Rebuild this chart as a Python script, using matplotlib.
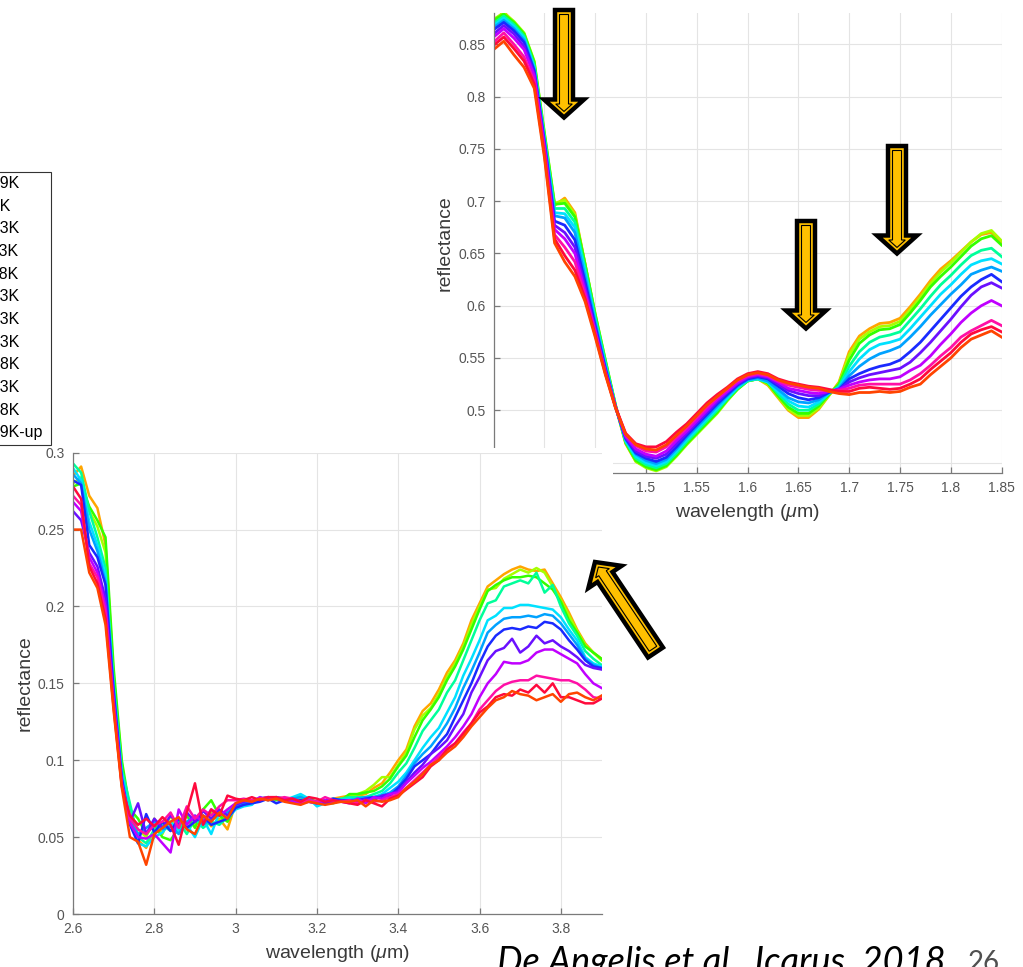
import numpy as np
import matplotlib
matplotlib.use("Agg")
import matplotlib.pyplot as plt
from matplotlib.patches import Polygon, Rectangle
from matplotlib.ticker import FormatStrFormatter, MultipleLocator

plt.rcParams['font.family'] = ['Liberation Sans', 'DejaVu Sans']
plt.rcParams['mathtext.fontset'] = 'custom'
plt.rcParams['mathtext.rm'] = 'Liberation Sans'
plt.rcParams['mathtext.it'] = 'Liberation Sans:italic'

# temperature steps (legend order) and line colours
temps = ['T=109K', 'T=93K', 'T=103K', 'T=113K', 'T=118K', 'T=123K',
         'T=133K', 'T=143K', 'T=148K', 'T=153K', 'T=158K', 'T=109K-up']
colors = ['#FFA500', '#A6FF00', '#33FF00', '#00FF9A', '#00E1FF', '#00A2FF',
          '#1A2AFF', '#6A10FF', '#C000FF', '#FF10A6', '#FF0A3C', '#FF4400']

# 1.35-1.85 um, one row per wavelength, one column per temperature
nir_wl = [1.35, 1.36, 1.37, 1.38, 1.39, 1.40, 1.41, 1.42, 1.43, 1.44, 1.45,
          1.46, 1.47, 1.48, 1.49, 1.50, 1.51, 1.52, 1.53, 1.54, 1.55, 1.56,
          1.57, 1.58, 1.59, 1.60, 1.61, 1.62, 1.63, 1.64, 1.65, 1.66, 1.67,
          1.68, 1.69, 1.70, 1.71, 1.72, 1.73, 1.74, 1.75, 1.76, 1.77, 1.78,
          1.79, 1.80, 1.81, 1.82, 1.83, 1.84, 1.85]
nir_refl = [
    [0.872, 0.874, 0.873, 0.870, 0.868, 0.866, 0.864, 0.860, 0.857, 0.852, 0.849, 0.845],
    [0.881, 0.880, 0.879, 0.877, 0.875, 0.873, 0.871, 0.868, 0.865, 0.861, 0.857, 0.853],
    [0.871, 0.872, 0.871, 0.869, 0.867, 0.865, 0.863, 0.860, 0.856, 0.850, 0.846, 0.840],
    [0.860, 0.861, 0.860, 0.858, 0.856, 0.854, 0.852, 0.848, 0.845, 0.838, 0.834, 0.828],
    [0.830, 0.834, 0.833, 0.830, 0.828, 0.826, 0.825, 0.822, 0.820, 0.815, 0.812, 0.808],
    [0.762, 0.766, 0.765, 0.762, 0.760, 0.758, 0.757, 0.754, 0.752, 0.748, 0.745, 0.742],
    [0.696, 0.698, 0.697, 0.693, 0.689, 0.686, 0.681, 0.677, 0.673, 0.668, 0.664, 0.660],
    [0.703, 0.701, 0.698, 0.693, 0.688, 0.684, 0.677, 0.670, 0.664, 0.656, 0.648, 0.642],
    [0.689, 0.687, 0.685, 0.680, 0.675, 0.670, 0.663, 0.656, 0.650, 0.642, 0.634, 0.628],
    [0.640, 0.640, 0.640, 0.636, 0.632, 0.628, 0.623, 0.618, 0.614, 0.610, 0.607, 0.604],
    [0.590, 0.592, 0.592, 0.589, 0.586, 0.584, 0.581, 0.578, 0.576, 0.574, 0.572, 0.570],
    [0.545, 0.548, 0.548, 0.546, 0.544, 0.542, 0.540, 0.538, 0.537, 0.536, 0.535, 0.534],
    [0.504, 0.505, 0.505, 0.504, 0.504, 0.504, 0.503, 0.503, 0.503, 0.503, 0.503, 0.502],
    [0.468, 0.469, 0.469, 0.470, 0.471, 0.472, 0.473, 0.474, 0.475, 0.477, 0.478, 0.477],
    [0.451, 0.451, 0.452, 0.454, 0.456, 0.458, 0.459, 0.461, 0.463, 0.466, 0.468, 0.467],
    [0.446, 0.445, 0.446, 0.448, 0.450, 0.452, 0.454, 0.456, 0.458, 0.461, 0.465, 0.463],
    [0.443, 0.442, 0.443, 0.445, 0.447, 0.449, 0.451, 0.454, 0.456, 0.460, 0.465, 0.462],
    [0.447, 0.446, 0.447, 0.449, 0.451, 0.453, 0.455, 0.458, 0.461, 0.465, 0.470, 0.467],
    [0.457, 0.456, 0.457, 0.459, 0.461, 0.463, 0.465, 0.468, 0.471, 0.474, 0.479, 0.476],
    [0.468, 0.467, 0.468, 0.470, 0.472, 0.474, 0.476, 0.478, 0.480, 0.483, 0.487, 0.485],
    [0.479, 0.477, 0.478, 0.480, 0.482, 0.484, 0.486, 0.488, 0.490, 0.493, 0.497, 0.495],
    [0.490, 0.487, 0.488, 0.490, 0.492, 0.494, 0.496, 0.498, 0.500, 0.503, 0.507, 0.505],
    [0.500, 0.497, 0.498, 0.500, 0.502, 0.504, 0.506, 0.508, 0.510, 0.512, 0.515, 0.513],
    [0.511, 0.509, 0.510, 0.511, 0.512, 0.514, 0.515, 0.517, 0.518, 0.520, 0.522, 0.521],
    [0.521, 0.520, 0.520, 0.521, 0.522, 0.523, 0.524, 0.525, 0.526, 0.528, 0.530, 0.529],
    [0.528, 0.528, 0.528, 0.528, 0.529, 0.529, 0.530, 0.531, 0.532, 0.533, 0.535, 0.534],
    [0.530, 0.530, 0.530, 0.530, 0.530, 0.531, 0.532, 0.533, 0.534, 0.535, 0.537, 0.536],
    [0.524, 0.525, 0.526, 0.527, 0.527, 0.528, 0.530, 0.531, 0.532, 0.533, 0.535, 0.534],
    [0.512, 0.513, 0.514, 0.516, 0.518, 0.520, 0.523, 0.525, 0.527, 0.528, 0.530, 0.529],
    [0.500, 0.501, 0.503, 0.506, 0.509, 0.512, 0.516, 0.519, 0.521, 0.524, 0.527, 0.526],
    [0.493, 0.495, 0.497, 0.500, 0.504, 0.508, 0.512, 0.516, 0.519, 0.522, 0.525, 0.524],
    [0.493, 0.495, 0.497, 0.500, 0.503, 0.507, 0.510, 0.514, 0.517, 0.520, 0.523, 0.522],
    [0.501, 0.502, 0.504, 0.506, 0.508, 0.510, 0.512, 0.514, 0.516, 0.519, 0.522, 0.521],
    [0.514, 0.514, 0.515, 0.516, 0.516, 0.517, 0.517, 0.518, 0.518, 0.519, 0.520, 0.518],
    [0.527, 0.526, 0.525, 0.523, 0.522, 0.521, 0.520, 0.520, 0.520, 0.519, 0.518, 0.516],
    [0.556, 0.553, 0.548, 0.542, 0.537, 0.533, 0.530, 0.527, 0.524, 0.521, 0.518, 0.515],
    [0.571, 0.568, 0.564, 0.556, 0.549, 0.542, 0.535, 0.531, 0.527, 0.524, 0.521, 0.517],
    [0.578, 0.575, 0.572, 0.565, 0.558, 0.549, 0.539, 0.534, 0.529, 0.525, 0.522, 0.517],
    [0.583, 0.580, 0.577, 0.570, 0.563, 0.554, 0.542, 0.536, 0.530, 0.525, 0.521, 0.518],
    [0.584, 0.581, 0.578, 0.572, 0.565, 0.557, 0.544, 0.538, 0.530, 0.525, 0.520, 0.517],
    [0.588, 0.585, 0.582, 0.575, 0.568, 0.561, 0.548, 0.540, 0.532, 0.525, 0.521, 0.518],
    [0.599, 0.596, 0.593, 0.586, 0.578, 0.570, 0.556, 0.546, 0.538, 0.529, 0.525, 0.522],
    [0.611, 0.608, 0.605, 0.597, 0.589, 0.580, 0.565, 0.555, 0.543, 0.535, 0.530, 0.525],
    [0.624, 0.621, 0.618, 0.609, 0.600, 0.591, 0.576, 0.565, 0.552, 0.543, 0.539, 0.534],
    [0.635, 0.632, 0.628, 0.620, 0.611, 0.601, 0.587, 0.576, 0.563, 0.552, 0.547, 0.542],
    [0.643, 0.641, 0.637, 0.629, 0.620, 0.611, 0.598, 0.587, 0.573, 0.560, 0.555, 0.550],
    [0.652, 0.651, 0.647, 0.639, 0.630, 0.620, 0.609, 0.599, 0.584, 0.570, 0.565, 0.560],
    [0.661, 0.661, 0.657, 0.648, 0.639, 0.630, 0.618, 0.610, 0.593, 0.576, 0.573, 0.568],
    [0.668, 0.669, 0.664, 0.653, 0.643, 0.634, 0.625, 0.618, 0.600, 0.581, 0.577, 0.572],
    [0.670, 0.672, 0.667, 0.655, 0.645, 0.637, 0.630, 0.622, 0.605, 0.586, 0.580, 0.576],
    [0.661, 0.662, 0.658, 0.647, 0.640, 0.633, 0.623, 0.617, 0.600, 0.581, 0.575, 0.570],
]

# 2.6-3.9 um, same layout
mir_wl = [2.60, 2.62, 2.64, 2.66, 2.68, 2.70, 2.72, 2.74, 2.76, 2.78, 2.80,
          2.82, 2.84, 2.86, 2.88, 2.90, 2.92, 2.94, 2.96, 2.98, 3.00, 3.02,
          3.04, 3.06, 3.08, 3.10, 3.12, 3.14, 3.16, 3.18, 3.20, 3.22, 3.24,
          3.26, 3.28, 3.30, 3.32, 3.34, 3.36, 3.38, 3.40, 3.42, 3.44, 3.46,
          3.48, 3.50, 3.52, 3.54, 3.56, 3.58, 3.60, 3.62, 3.64, 3.66, 3.68,
          3.70, 3.72, 3.74, 3.76, 3.78, 3.80, 3.82, 3.84, 3.86, 3.88, 3.90]
mir_refl = [
    [0.285, 0.280, 0.278, 0.293, 0.290, 0.286, 0.282, 0.262, 0.268, 0.272, 0.278, 0.250],
    [0.291, 0.284, 0.280, 0.287, 0.282, 0.280, 0.279, 0.256, 0.262, 0.266, 0.270, 0.250],
    [0.272, 0.262, 0.265, 0.262, 0.255, 0.250, 0.240, 0.235, 0.232, 0.228, 0.226, 0.222],
    [0.264, 0.252, 0.256, 0.245, 0.240, 0.236, 0.232, 0.226, 0.222, 0.219, 0.215, 0.212],
    [0.240, 0.235, 0.245, 0.225, 0.220, 0.216, 0.214, 0.205, 0.200, 0.196, 0.192, 0.188],
    [0.155, 0.153, 0.160, 0.150, 0.148, 0.146, 0.145, 0.140, 0.138, 0.136, 0.134, 0.132],
    [0.098, 0.096, 0.100, 0.094, 0.092, 0.090, 0.088, 0.086, 0.085, 0.084, 0.083, 0.082],
    [0.062, 0.066, 0.068, 0.072, 0.064, 0.060, 0.058, 0.060, 0.059, 0.062, 0.064, 0.050],
    [0.048, 0.055, 0.062, 0.050, 0.046, 0.052, 0.046, 0.072, 0.050, 0.055, 0.058, 0.047],
    [0.043, 0.050, 0.052, 0.046, 0.044, 0.056, 0.065, 0.052, 0.049, 0.052, 0.062, 0.032],
    [0.055, 0.062, 0.058, 0.055, 0.050, 0.060, 0.053, 0.062, 0.052, 0.058, 0.057, 0.052],
    [0.060, 0.052, 0.050, 0.058, 0.053, 0.055, 0.060, 0.056, 0.046, 0.060, 0.063, 0.056],
    [0.058, 0.064, 0.048, 0.054, 0.060, 0.057, 0.054, 0.064, 0.040, 0.066, 0.058, 0.060],
    [0.062, 0.055, 0.056, 0.060, 0.054, 0.052, 0.062, 0.058, 0.068, 0.056, 0.045, 0.063],
    [0.056, 0.060, 0.064, 0.052, 0.058, 0.060, 0.056, 0.066, 0.058, 0.070, 0.066, 0.055],
    [0.060, 0.058, 0.056, 0.062, 0.050, 0.064, 0.060, 0.060, 0.064, 0.062, 0.085, 0.052],
    [0.064, 0.062, 0.068, 0.056, 0.062, 0.058, 0.064, 0.067, 0.060, 0.068, 0.058, 0.064],
    [0.057, 0.066, 0.074, 0.060, 0.052, 0.062, 0.058, 0.062, 0.068, 0.064, 0.068, 0.060],
    [0.062, 0.060, 0.064, 0.058, 0.066, 0.065, 0.060, 0.068, 0.064, 0.070, 0.064, 0.066],
    [0.055, 0.068, 0.060, 0.063, 0.062, 0.066, 0.062, 0.064, 0.068, 0.074, 0.077, 0.062],
    [0.072, 0.071, 0.070, 0.070, 0.068, 0.070, 0.069, 0.071, 0.072, 0.074, 0.075, 0.072],
    [0.074, 0.073, 0.072, 0.071, 0.070, 0.072, 0.071, 0.073, 0.074, 0.075, 0.074, 0.074],
    [0.073, 0.074, 0.073, 0.072, 0.071, 0.073, 0.072, 0.074, 0.073, 0.074, 0.076, 0.073],
    [0.075, 0.074, 0.075, 0.074, 0.076, 0.074, 0.073, 0.075, 0.076, 0.075, 0.074, 0.075],
    [0.074, 0.075, 0.076, 0.075, 0.074, 0.075, 0.075, 0.076, 0.074, 0.076, 0.076, 0.074],
    [0.076, 0.075, 0.074, 0.076, 0.075, 0.076, 0.072, 0.075, 0.076, 0.075, 0.076, 0.075],
    [0.075, 0.074, 0.075, 0.075, 0.074, 0.074, 0.074, 0.074, 0.075, 0.076, 0.074, 0.073],
    [0.074, 0.075, 0.073, 0.074, 0.076, 0.075, 0.073, 0.075, 0.073, 0.075, 0.075, 0.072],
    [0.075, 0.076, 0.074, 0.077, 0.078, 0.076, 0.074, 0.073, 0.072, 0.073, 0.073, 0.071],
    [0.074, 0.074, 0.075, 0.075, 0.075, 0.074, 0.073, 0.074, 0.073, 0.074, 0.076, 0.073],
    [0.073, 0.072, 0.073, 0.071, 0.070, 0.072, 0.072, 0.073, 0.072, 0.073, 0.075, 0.072],
    [0.074, 0.073, 0.072, 0.073, 0.072, 0.073, 0.074, 0.072, 0.074, 0.076, 0.073, 0.071],
    [0.075, 0.074, 0.072, 0.074, 0.075, 0.074, 0.075, 0.073, 0.073, 0.074, 0.074, 0.072],
    [0.076, 0.075, 0.074, 0.075, 0.074, 0.073, 0.074, 0.074, 0.073, 0.073, 0.073, 0.073],
    [0.077, 0.076, 0.078, 0.076, 0.075, 0.074, 0.073, 0.074, 0.072, 0.074, 0.072, 0.073],
    [0.077, 0.078, 0.078, 0.076, 0.074, 0.075, 0.074, 0.073, 0.075, 0.072, 0.071, 0.074],
    [0.078, 0.080, 0.079, 0.076, 0.075, 0.076, 0.075, 0.075, 0.072, 0.074, 0.074, 0.070],
    [0.082, 0.084, 0.080, 0.078, 0.076, 0.076, 0.076, 0.074, 0.076, 0.073, 0.072, 0.074],
    [0.085, 0.089, 0.083, 0.080, 0.078, 0.077, 0.076, 0.077, 0.075, 0.074, 0.070, 0.073],
    [0.092, 0.089, 0.088, 0.085, 0.082, 0.079, 0.077, 0.078, 0.078, 0.076, 0.075, 0.074],
    [0.100, 0.097, 0.096, 0.092, 0.086, 0.083, 0.082, 0.080, 0.079, 0.078, 0.077, 0.076],
    [0.107, 0.105, 0.103, 0.098, 0.092, 0.090, 0.088, 0.086, 0.085, 0.082, 0.081, 0.082],
    [0.122, 0.120, 0.115, 0.108, 0.100, 0.098, 0.096, 0.092, 0.090, 0.087, 0.085, 0.086],
    [0.132, 0.129, 0.126, 0.119, 0.108, 0.104, 0.100, 0.097, 0.095, 0.092, 0.089, 0.091],
    [0.137, 0.134, 0.133, 0.126, 0.115, 0.109, 0.104, 0.104, 0.099, 0.097, 0.096, 0.097],
    [0.146, 0.143, 0.141, 0.133, 0.121, 0.116, 0.111, 0.108, 0.104, 0.102, 0.100, 0.100],
    [0.157, 0.154, 0.152, 0.144, 0.131, 0.124, 0.117, 0.113, 0.109, 0.107, 0.107, 0.105],
    [0.165, 0.163, 0.161, 0.152, 0.141, 0.134, 0.128, 0.122, 0.115, 0.111, 0.111, 0.109],
    [0.176, 0.174, 0.172, 0.165, 0.155, 0.147, 0.139, 0.130, 0.122, 0.118, 0.117, 0.115],
    [0.191, 0.188, 0.185, 0.178, 0.166, 0.158, 0.150, 0.144, 0.130, 0.124, 0.124, 0.122],
    [0.202, 0.200, 0.198, 0.191, 0.178, 0.170, 0.163, 0.154, 0.141, 0.133, 0.131, 0.128],
    [0.213, 0.211, 0.210, 0.202, 0.191, 0.183, 0.174, 0.165, 0.150, 0.139, 0.135, 0.134],
    [0.217, 0.212, 0.214, 0.204, 0.194, 0.188, 0.181, 0.171, 0.156, 0.145, 0.141, 0.139],
    [0.221, 0.218, 0.217, 0.213, 0.199, 0.192, 0.185, 0.173, 0.164, 0.149, 0.143, 0.141],
    [0.224, 0.221, 0.219, 0.215, 0.199, 0.193, 0.186, 0.179, 0.163, 0.151, 0.142, 0.145],
    [0.226, 0.224, 0.219, 0.217, 0.201, 0.193, 0.185, 0.170, 0.163, 0.152, 0.146, 0.143],
    [0.224, 0.222, 0.220, 0.215, 0.201, 0.194, 0.187, 0.174, 0.165, 0.152, 0.144, 0.142],
    [0.223, 0.225, 0.219, 0.222, 0.200, 0.193, 0.186, 0.181, 0.170, 0.155, 0.149, 0.139],
    [0.224, 0.222, 0.215, 0.209, 0.199, 0.195, 0.190, 0.176, 0.172, 0.154, 0.144, 0.141],
    [0.215, 0.213, 0.211, 0.214, 0.198, 0.194, 0.189, 0.178, 0.172, 0.153, 0.150, 0.143],
    [0.206, 0.204, 0.203, 0.200, 0.193, 0.189, 0.185, 0.174, 0.169, 0.152, 0.141, 0.138],
    [0.196, 0.194, 0.191, 0.189, 0.185, 0.182, 0.178, 0.171, 0.166, 0.152, 0.141, 0.143],
    [0.185, 0.184, 0.183, 0.181, 0.178, 0.175, 0.172, 0.167, 0.163, 0.150, 0.139, 0.144],
    [0.176, 0.175, 0.174, 0.171, 0.167, 0.166, 0.165, 0.162, 0.156, 0.146, 0.137, 0.141],
    [0.170, 0.170, 0.170, 0.166, 0.163, 0.162, 0.161, 0.160, 0.150, 0.141, 0.137, 0.139],
    [0.166, 0.165, 0.166, 0.162, 0.161, 0.160, 0.160, 0.159, 0.147, 0.140, 0.140, 0.142],
]

W, H = 1023, 967
fig = plt.figure(figsize=(W / 100, H / 100), dpi=100)
fig.patch.set_facecolor('white')

AX_GREY = '#7a7a7a'


def matlab_style(ax):
    ax.grid(True, color='#e4e4e4', lw=0.8)
    ax.set_axisbelow(True)
    for side in ('top', 'right'):
        ax.spines[side].set_visible(False)
    for side in ('left', 'bottom'):
        ax.spines[side].set_color(AX_GREY)
        ax.spines[side].set_linewidth(0.9)
    ax.tick_params(direction='in', length=4, width=0.9, color=AX_GREY,
                   labelcolor='#555555', labelsize=10, pad=6)
    ax.xaxis.set_major_formatter(FormatStrFormatter('%g'))
    ax.yaxis.set_major_formatter(FormatStrFormatter('%g'))
    ax.set_xlabel(r'wavelength ($\mu$m)', fontsize=14, color='#3a3a3a', labelpad=5)
    ax.set_ylabel('reflectance', fontsize=14, color='#3a3a3a', labelpad=3)


# near-infrared panel (upper right)
ax_nir = fig.add_axes([493.6 / W, 1 - 473 / H, 508 / W, 460 / H], zorder=0)
nir = np.array(nir_refl)
for i in range(len(temps)):
    ax_nir.plot(nir_wl, nir[:, i], color=colors[i], lw=2.0)
ax_nir.set_xlim(1.35, 1.85)
ax_nir.set_ylim(0.44, 0.88)
ax_nir.xaxis.set_major_locator(MultipleLocator(0.05))
ax_nir.yaxis.set_major_locator(MultipleLocator(0.05))
matlab_style(ax_nir)

# white backing of the 3 um panel, laid over the lower left of the first one
fig.add_artist(Rectangle((0, 0), 613 / W, (H - 448) / H, transform=fig.transFigure,
                         facecolor='white', edgecolor='none', zorder=1))

# 3 um panel (lower left)
ax_mir = fig.add_axes([73 / W, 1 - 914 / H, 528.5 / W, 461.3 / H], zorder=2)
mir = np.array(mir_refl)
handles = []
for i in range(len(temps)):
    ln, = ax_mir.plot(mir_wl, mir[:, i], color=colors[i], lw=1.8)
    handles.append(ln)
ax_mir.set_xlim(2.6, 3.9)
ax_mir.set_ylim(0, 0.3)
ax_mir.xaxis.set_major_locator(MultipleLocator(0.2))
ax_mir.yaxis.set_major_locator(MultipleLocator(0.05))
matlab_style(ax_mir)

# legend box drawn on its own so the text inset can differ from the vertical pad
fig.add_artist(Rectangle((-0.1, 1 - 445 / H), 0.1 + 51 / W, 273 / H,
                         transform=fig.transFigure, facecolor='white',
                         edgecolor='#333333', lw=0.8, zorder=3))
leg = fig.legend(handles, temps, loc='upper right',
                 bbox_to_anchor=(43 / W, 1 - 176 / H), bbox_transform=fig.transFigure,
                 borderaxespad=0, fontsize=11.5, labelspacing=0.48, borderpad=0,
                 handlelength=2.5, frameon=False)
leg.set_zorder(4)


def arrow_outline(tail, tip, sw=9, hw=20, hl=18):
    t = np.array(tail, float)
    d = np.array(tip, float) - t
    L = np.hypot(*d)
    u = d / L
    n = np.array([-u[1], u[0]])
    b = t + u * (L - hl)
    return np.array([t + n * sw, b + n * sw, b + n * hw, t + u * L,
                     b - n * hw, b - n * sw, t - n * sw])


def inset(pts, d):
    k = len(pts)
    area = 0.5 * sum(pts[i, 0] * pts[(i + 1) % k, 1] - pts[(i + 1) % k, 0] * pts[i, 1]
                     for i in range(k))
    s = 1 if area > 0 else -1
    lines = []
    for i in range(k):
        p, q = pts[i], pts[(i + 1) % k]
        e = (q - p) / np.hypot(*(q - p))
        lines.append((p + s * np.array([-e[1], e[0]]) * d, e))
    out = []
    for i in range(k):
        (p1, e1), (p2, e2) = lines[i - 1], lines[i]
        a, _ = np.linalg.solve(np.array([e1, -e2]).T, p2 - p1)
        out.append(p1 + a * e1)
    return np.array(out)


def to_fig(pts):
    return np.column_stack([pts[:, 0] / W, 1 - pts[:, 1] / H])


def block_arrow(tail, tip):
    outer = arrow_outline(tail, tip)
    fig.add_artist(Polygon(to_fig(outer), closed=True, facecolor='#FFC000',
                           edgecolor='black', lw=3.2, joinstyle='miter',
                           transform=fig.transFigure, zorder=5))
    fig.add_artist(Polygon(to_fig(inset(outer, 4.5)), closed=True, fill=False,
                           edgecolor='black', lw=0.8, joinstyle='miter',
                           transform=fig.transFigure, zorder=6))


# pixel positions (x right, y down) of the highlighted bands
block_arrow((564, 10), (564, 117.5))
block_arrow((806, 221), (806, 328.5))
block_arrow((897, 146), (897, 253.5))
block_arrow((655.5, 652.5), (595, 562))

fig.text(497 / W, 1 - 973 / H, 'De Angelis et al., Icarus, 2018', fontsize=26,
         style='italic', family=['Lato', 'DejaVu Sans'], color='black',
         ha='left', va='baseline', zorder=7)
fig.text(968 / W, 1 - 971 / H, '26', fontsize=20, family=['Lato', 'DejaVu Sans'],
         color='#505050', ha='left', va='baseline', zorder=7)

fig.savefig('out.png', dpi=100, facecolor='white')
